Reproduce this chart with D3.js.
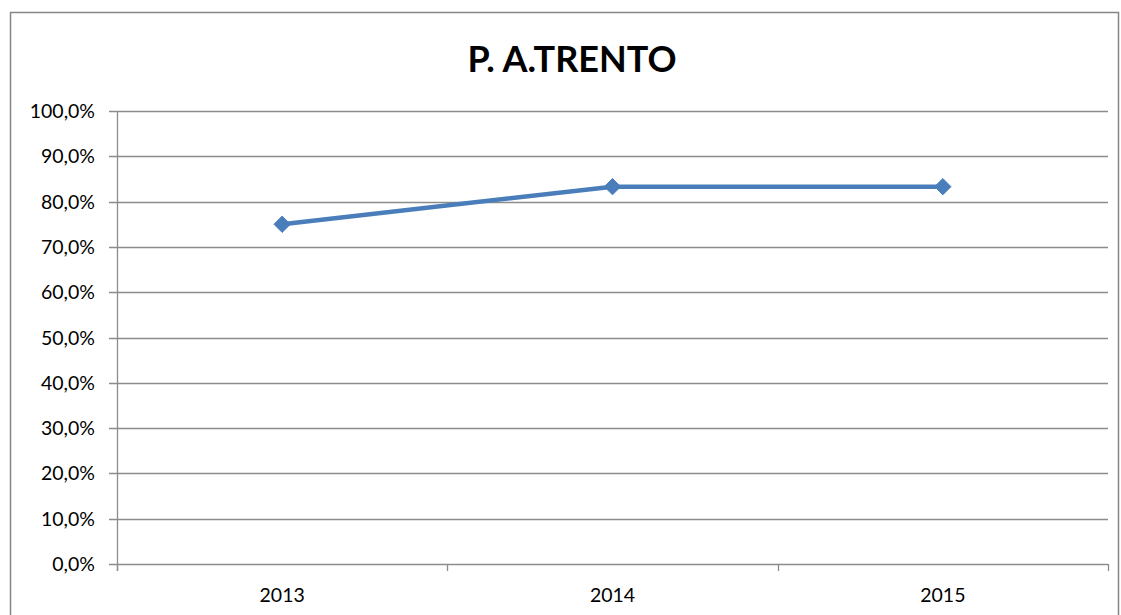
<!DOCTYPE html>
<html>
<head>
<meta charset="utf-8">
<script src="https://cdn.jsdelivr.net/npm/d3@7"></script>
<style>
  body { margin: 0; background: #fff; }
  svg { display: block; font-family: Lato, "Open Sans", sans-serif; }
</style>
</head>
<body>
<svg id="chart" width="1121" height="615"></svg>
<script>
// chart data
var years = ["2013", "2014", "2015"];
var values = [0.75, 0.833, 0.833];
var yTicks = [0, 0.1, 0.2, 0.3, 0.4, 0.5, 0.6, 0.7, 0.8, 0.9, 1.0];
var title = "P. A.TRENTO";

var svg = d3.select("#chart");

// outer chart border
svg.append("rect")
  .attr("x", 10.5).attr("y", 12.5)
  .attr("width", 1108).attr("height", 620)
  .attr("fill", "none")
  .attr("stroke", "#868686")
  .attr("stroke-width", 1.5);

var margin = { left: 117, right: 1108, top: 111, bottom: 564 };

var x = d3.scaleBand()
  .domain(years)
  .range([margin.left, margin.right]);

var y = d3.scaleLinear()
  .domain([0, 1])
  .range([margin.bottom, margin.top]);

var fmt = function(d) { return d3.format(".1f")(d * 100).replace(".", ",") + "%"; };

// gridlines
svg.append("g")
  .selectAll("line")
  .data(yTicks)
  .enter()
  .append("line")
  .attr("x1", margin.left - 8)
  .attr("x2", margin.right)
  .attr("y1", function(d) { return Math.round(y(d)) + 0.5; })
  .attr("y2", function(d) { return Math.round(y(d)) + 0.5; })
  .attr("stroke", "#8c8c8c")
  .attr("stroke-width", 1.3);

// y labels
svg.append("g")
  .selectAll("text")
  .data(yTicks)
  .enter()
  .append("text")
  .attr("x", margin.left - 22)
  .attr("y", function(d) { return y(d); })
  .attr("dy", "0.36em")
  .attr("text-anchor", "end")
  .attr("font-size", 19.5)
  .attr("fill", "#000")
  .text(fmt);

// y axis line
svg.append("line")
  .attr("x1", margin.left + 0.5).attr("x2", margin.left + 0.5)
  .attr("y1", margin.top).attr("y2", margin.bottom + 7)
  .attr("stroke", "#8c8c8c")
  .attr("stroke-width", 1.3);

// x tick marks at band edges
var edges = years.map(function(d) { return x(d); }).concat([margin.right]);
svg.append("g")
  .selectAll("line")
  .data(edges)
  .enter()
  .append("line")
  .attr("x1", function(d) { return Math.round(d) + 0.5; })
  .attr("x2", function(d) { return Math.round(d) + 0.5; })
  .attr("y1", margin.bottom)
  .attr("y2", margin.bottom + 7)
  .attr("stroke", "#8c8c8c")
  .attr("stroke-width", 1.3);

// x labels
svg.append("g")
  .selectAll("text")
  .data(years)
  .enter()
  .append("text")
  .attr("x", function(d) { return x(d) + x.bandwidth() / 2; })
  .attr("y", 602)
  .attr("text-anchor", "middle")
  .attr("font-size", 19.5)
  .attr("fill", "#000")
  .text(function(d) { return d; });

// the line
var line = d3.line()
  .x(function(d, i) { return x(years[i]) + x.bandwidth() / 2; })
  .y(function(d) { return y(d); });

svg.append("path")
  .datum(values)
  .attr("d", line)
  .attr("fill", "none")
  .attr("stroke", "#4a7ebb")
  .attr("stroke-width", 4.5)
  .attr("stroke-linejoin", "round");

// diamond markers
svg.append("g")
  .selectAll("path")
  .data(values)
  .enter()
  .append("path")
  .attr("d", d3.symbol().type(d3.symbolDiamond2).size(170))
  .attr("transform", function(d, i) {
    return "translate(" + (x(years[i]) + x.bandwidth() / 2) + "," + y(d) + ")";
  })
  .attr("fill", "#4a7ebb")
  .attr("stroke", "#4a7ebb")
  .attr("stroke-width", 1);

// title
svg.append("text")
  .attr("x", 572)
  .attr("y", 72)
  .attr("text-anchor", "middle")
  .attr("font-size", 36)
  .attr("font-weight", "bold")
  .attr("fill", "#000")
  .text(title);
</script>
</body>
</html>
